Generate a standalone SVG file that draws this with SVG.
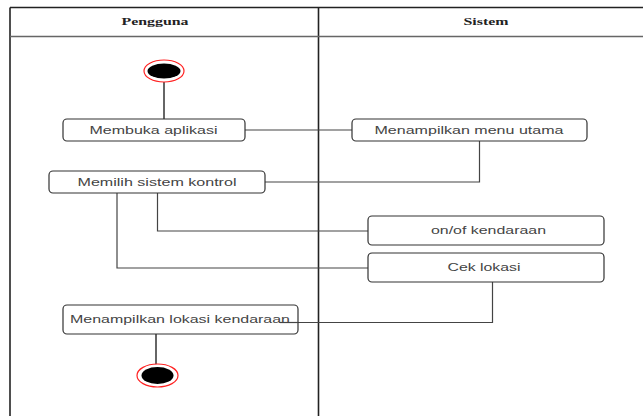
<svg xmlns="http://www.w3.org/2000/svg" width="643" height="416" viewBox="0 0 643 416">
  <style>
    .lane { fill: none; stroke: #222; stroke-width: 1.6; }
    .hdr { fill: none; stroke: #666; stroke-width: 1.6; }
    .hdr-text { font-family: "Liberation Serif", "Times New Roman", serif; font-weight: bold; font-size: 10px; fill: #222; text-anchor: middle; }
    .act rect { fill: #fff; stroke: #333; stroke-width: 1.2; }
    .act text { font-family: "Liberation Sans", Arial, sans-serif; font-size: 10px; fill: #444; text-anchor: middle; }
    .flow { fill: none; stroke: #444; stroke-width: 1.2; }
    .stem { fill: none; stroke: #666; stroke-width: 2; }
    .ring { fill: #fff; stroke: #f22; stroke-width: 1.2; }
    .dot { fill: #000; }
  </style>

  <rect width="643" height="416" fill="#fff"/>

  <!-- swimlane frame -->
  <g id="lanes">
    <line class="lane" x1="10" y1="7.5" x2="643" y2="7.5"/>
    <line class="lane" x1="10" y1="7.5" x2="10" y2="416"/>
    <line class="lane" x1="318.5" y1="7.5" x2="318.5" y2="416"/>
    <line class="hdr" x1="10" y1="36.5" x2="643" y2="36.5"/>
    <text class="hdr-text" x="155" y="25" textLength="67" lengthAdjust="spacingAndGlyphs">Pengguna</text>
    <text class="hdr-text" x="486" y="25" textLength="45" lengthAdjust="spacingAndGlyphs">Sistem</text>
  </g>

  <!-- connectors -->
  <g id="connectors">
    <line class="stem" x1="164" y1="82" x2="164" y2="119"/>
    <polyline class="flow" points="245,130 352,130"/>
    <polyline class="flow" points="479.5,141 479.5,182 265,182"/>
    <polyline class="flow" points="157.5,193 157.5,231 368,231"/>
    <polyline class="flow" points="117,193 117,268 368,268"/>
    <polyline class="flow" points="492.5,282 492.5,322.5 280,322.5"/>
    <line class="stem" x1="156" y1="334" x2="156" y2="366"/>
  </g>

  <g id="start">
    <ellipse class="ring" cx="164" cy="71" rx="20" ry="11"/>
    <ellipse class="dot" cx="164" cy="71" rx="16.5" ry="7.5"/>
  </g>

  <g id="membuka-aplikasi" class="act">
    <rect x="63" y="119" width="182" height="22" rx="4"/>
    <text x="153.5" y="133.5" textLength="128" lengthAdjust="spacingAndGlyphs">Membuka aplikasi</text>
  </g>

  <g id="menu-utama" class="act">
    <rect x="352" y="119" width="235" height="22" rx="4"/>
    <text x="469" y="133.5" textLength="189" lengthAdjust="spacingAndGlyphs">Menampilkan menu utama</text>
  </g>

  <g id="memilih-sistem" class="act">
    <rect x="49" y="171" width="216" height="22" rx="4"/>
    <text x="157" y="185.5" textLength="159" lengthAdjust="spacingAndGlyphs">Memilih sistem kontrol</text>
  </g>

  <g id="on-off" class="act">
    <rect x="368" y="216" width="236" height="29" rx="4"/>
    <text x="488.5" y="233.5" textLength="115" lengthAdjust="spacingAndGlyphs">on/of kendaraan</text>
  </g>

  <g id="cek-lokasi" class="act">
    <rect x="368" y="253" width="236" height="29" rx="4"/>
    <text x="484" y="271" textLength="73" lengthAdjust="spacingAndGlyphs">Cek lokasi</text>
  </g>

  <g id="tampil-lokasi" class="act">
    <rect x="63" y="305" width="235" height="29" rx="4"/>
    <text x="180" y="323" textLength="220" lengthAdjust="spacingAndGlyphs">Menampilkan lokasi kendaraan</text>
  </g>

  <!-- line drawn over the last box, as in the layout -->
  <line class="flow" x1="280" y1="322.5" x2="298" y2="322.5"/>

  <g id="end">
    <ellipse class="ring" cx="157.5" cy="375.5" rx="20.5" ry="11.5"/>
    <ellipse class="dot" cx="157.5" cy="375.5" rx="16" ry="8.5"/>
  </g>
</svg>
